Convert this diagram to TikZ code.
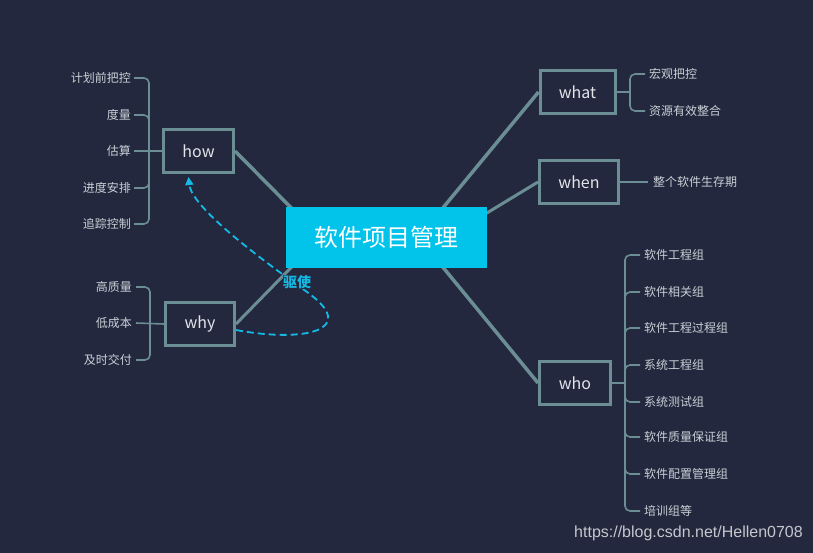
\documentclass[tikz,border=0pt]{standalone}
\usepackage{fontspec}
\newfontfamily\cjk{Noto Sans CJK SC}
\newfontfamily\marksans{Liberation Sans}
\usepackage{xcolor}
\usetikzlibrary{arrows.meta,calc,backgrounds}
\definecolor{bgnavy}{HTML}{23283E}
\definecolor{rootcyan}{HTML}{02C3E9}
\definecolor{linkgray}{HTML}{6B8E95}
\definecolor{leaftext}{HTML}{C9D1D6}
\definecolor{boxtext}{HTML}{E2E4EA}
\definecolor{drivecyan}{HTML}{14B9E4}
\definecolor{marktext}{HTML}{C4C7CC}

\begin{document}
\begin{tikzpicture}[x=1pt,y=-1pt,
  topic/.style={draw=linkgray,line width=3pt,fill=bgnavy,minimum width=#1,minimum height=43pt,inner sep=0pt,font=\cjk\fontsize{16}{16}\selectfont,text=boxtext},
  leaf/.style={inner sep=0pt,font=\cjk\fontsize{12}{12}\selectfont,text=leaftext},
  branch/.style={draw=linkgray,line width=3.5pt},
  twig/.style={draw=linkgray,line width=1.6pt,rounded corners=5pt},
  drive/.style={draw=drivecyan,line width=1.8pt,dash pattern=on 7pt off 4pt,-{Triangle[length=8pt,width=8pt]}}]
  % centre and topics
  \node[fill=rootcyan,minimum width=201pt,minimum height=61pt,inner sep=0pt,text=white,font=\cjk\fontsize{24}{24}\selectfont] (root) at (386.5,237.5) {软件项目管理};
  \node[topic=75pt] (what) at (577.5,92) {what};
  \node[topic=79pt] (when) at (579,182) {when};
  \node[topic=71pt] (who) at (575,383) {who};
  \node[topic=70pt] (how) at (198.5,151) {how};
  \node[topic=69pt] (why) at (200,324) {why};
  \coordinate (rl) at ($(root)+(-66,0)$);
  \coordinate (rr) at ($(root)+(32,0)$);
  \coordinate (rw) at ($(root)+(60,0)$);
  \begin{scope}[on background layer]
    \fill[bgnavy] (0,0) rectangle (813,553);
    \draw[branch] (rl) -- (how.east);
    \draw[branch,line width=3pt] (rl) -- (why.east);
    \draw[branch] (rr) -- (what.west);
    \draw[branch,line width=3pt] (rw) -- (when.west);
    \draw[branch] (rr) -- (who.west);
  \end{scope}

  % how
  \node[leaf,anchor=east] (h1) at (131,78) {计划前把控};
  \node[leaf,anchor=east] (h2) at (131,115) {度量};
  \node[leaf,anchor=east] (h3) at (131,151) {估算};
  \node[leaf,anchor=east] (h4) at (131,188) {进度安排};
  \node[leaf,anchor=east] (h5) at (131,224) {追踪控制};
  \coordinate (hb) at (149,151);
  \draw[twig] ($(h1.east)+(3,0)$) -| (hb) |- ($(h5.east)+(3,0)$);
  \draw[twig] ($(h2.east)+(3,0)$) -- (h2.east -| hb) -- ++(0,8);
  \draw[twig] ($(h4.east)+(3,0)$) -- (h4.east -| hb) -- ++(0,-8);
  \draw[twig] ($(h3.east)+(3,0)$) -- (how.west);

  % why
  \node[leaf,anchor=east] (y1) at (132,287) {高质量};
  \node[leaf,anchor=east] (y2) at (132,323) {低成本};
  \node[leaf,anchor=east] (y3) at (132,360) {及时交付};
  \coordinate (yb) at (150,323);
  \draw[twig] ($(y1.east)+(4,0)$) -| (yb) |- ($(y3.east)+(4,0)$);
  \draw[twig] ($(y2.east)+(4,0)$) -- (why.west);

  % what
  \node[leaf,anchor=west] (a1) at (649,74) {宏观把控};
  \node[leaf,anchor=west] (a2) at (649,111) {资源有效整合};
  \coordinate (ab) at (630,92);
  \draw[twig] ($(a1.west)+(-4,0)$) -| (ab) |- ($(a2.west)+(-4,0)$);
  \draw[twig] (what.east) -- (ab);

  % when
  \node[leaf,anchor=west] (n1) at (653,182) {整个软件生存期};
  \draw[twig] (when.east) -- ($(n1.west)+(-5,0)$);

  % who
  \node[leaf,anchor=west] (w1) at (644,255) {软件工程组};
  \node[leaf,anchor=west] (w2) at (644,292) {软件相关组};
  \node[leaf,anchor=west] (w3) at (644,328) {软件工程过程组};
  \node[leaf,anchor=west] (w4) at (644,365) {系统工程组};
  \node[leaf,anchor=west] (w5) at (644,402) {系统测试组};
  \node[leaf,anchor=west] (w6) at (644,437) {软件质量保证组};
  \node[leaf,anchor=west] (w7) at (644,474) {软件配置管理组};
  \node[leaf,anchor=west] (w8) at (644,511) {培训组等};
  \coordinate (wb) at (625,383);
  \draw[twig] ($(w1.west)+(-4,0)$) -| (wb) |- ($(w8.west)+(-4,0)$);
  \foreach \i in {2,3,4} {
    \draw[twig] ($(w\i.west)+(-4,0)$) -- (w\i.west -| wb) -- ++(0,8);
  }
  \foreach \i in {5,6,7} {
    \draw[twig] ($(w\i.west)+(-4,0)$) -- (w\i.west -| wb) -- ++(0,-8);
  }
  \draw[twig] (who.east) -- (wb);

  % driving relation
  \draw[drive] ($(why.east)+(0,6)$) .. controls (305,343) and (360,330) .. (307,292)
    .. controls (275,269) and (192,210) .. ($(how.south)+(-10,3)$);
  \node[fill=bgnavy,inner sep=0pt,text=drivecyan,font=\cjk\bfseries\fontsize{14}{14}\selectfont] (drivetxt) at (297,282) {驱使};

  \node[anchor=east,inner sep=0pt,text=marktext,font=\marksans\fontsize{16}{16}\selectfont] (mark) at (803,533) {https://blog.csdn.net/Hellen0708};
\end{tikzpicture}
\end{document}
